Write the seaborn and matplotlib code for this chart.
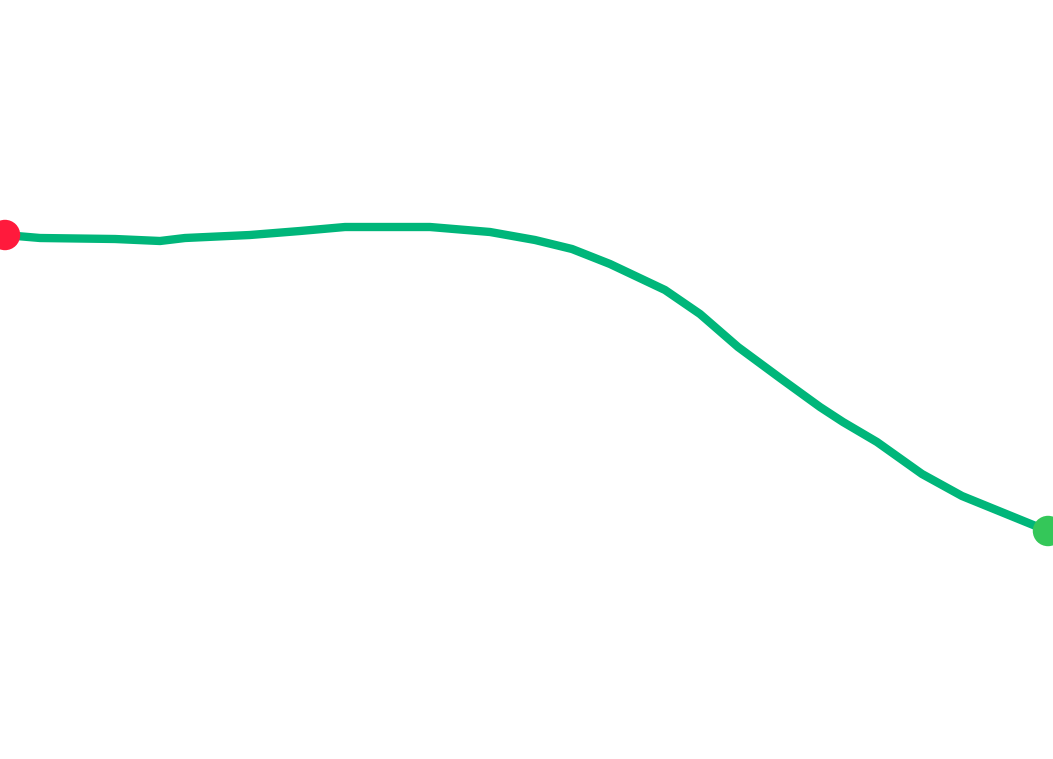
import matplotlib
matplotlib.use("Agg")
import matplotlib.pyplot as plt
import seaborn as sns
import pandas as pd

# Data (x = time position, y = value)
x_vals = [5, 40, 115, 160, 185, 250, 300, 345, 430, 490, 535, 572, 610, 665,
          700, 738, 780, 820, 843, 877, 922, 962, 1048]
y_vals = [524, 521, 520, 518, 521, 524, 528, 532, 532, 527, 519, 510, 495, 469,
          445, 412, 381, 352, 337, 317, 285, 263, 228]

line_color = "#00b67a"
start_color = "#ff1a3c"
end_color = "#34c759"

df = pd.DataFrame({"x": x_vals, "y": y_vals})

sns.set_theme(style="white")
fig = plt.figure(figsize=(10.53, 7.59), dpi=100)
ax = fig.add_axes([0, 0, 1, 1])

sns.lineplot(data=df, x="x", y="y", ax=ax, color=line_color, linewidth=6.0,
             solid_capstyle="butt", solid_joinstyle="round")
ends = df.iloc[[0, -1]].copy()
ends["kind"] = ["start", "end"]
sns.scatterplot(data=ends, x="x", y="y", hue="kind",
                palette={"start": start_color, "end": end_color},
                s=480, linewidth=0, ax=ax, legend=False, zorder=5)

ax.set_xlim(0, 1053)
ax.set_ylim(0, 759)
ax.set_axis_off()
fig.savefig("out.png", dpi=100)
